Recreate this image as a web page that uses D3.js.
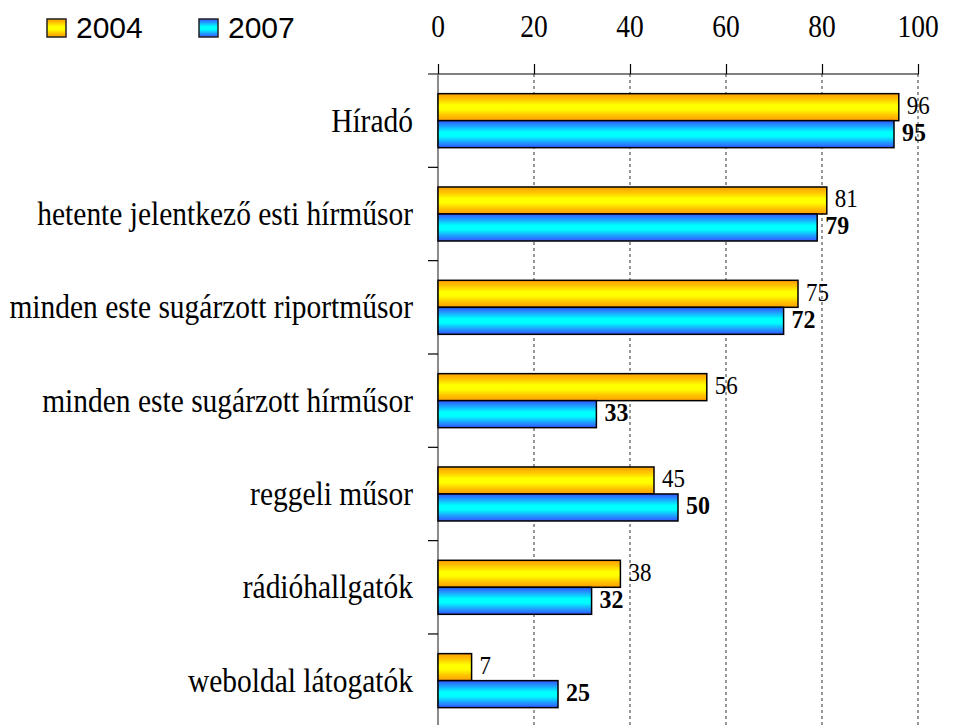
<!DOCTYPE html>
<html><head><meta charset="utf-8">
<script src="https://cdn.jsdelivr.net/npm/d3@7"></script>
<style>body{margin:0;background:#fff}svg{display:block}</style>
</head><body>
<script>
const categories = ["Híradó","hetente jelentkező esti hírműsor","minden este sugárzott riportműsor","minden este sugárzott hírműsor","reggeli műsor","rádióhallgatók","weboldal látogatók"];
const series = ["2004","2007"];
const values2004 = [96,81,75,56,45,38,7];
const values2007 = [95,79,72,33,50,32,25];
const xTicks = [0,20,40,60,80,100];

const SERIF="'Liberation Serif','Times New Roman',Times,serif";
const SANS="'Liberation Sans',Arial,sans-serif";
const W=974,H=725;
const svg=d3.select("body").append("svg").attr("width",W).attr("height",H);
const defs=svg.append("defs");
function grad(id,stops){
  const g=defs.append("linearGradient").attr("id",id).attr("x1",0).attr("y1",0).attr("x2",0).attr("y2",1);
  stops.forEach(([o,c])=>g.append("stop").attr("offset",o).attr("stop-color",c));
}
grad("g2004",[[0,"#FF9E00"],[0.2,"#FFC400"],[0.42,"#FFFF00"],[0.58,"#FFFF00"],[0.8,"#FFC400"],[1,"#FF9E00"]]);
grad("g2007",[[0,"#3355FF"],[0.2,"#1EA0FF"],[0.42,"#00FFFF"],[0.58,"#00FFFF"],[0.8,"#1EA0FF"],[1,"#3355FF"]]);
const fills={"2004":"url(#g2004)","2007":"url(#g2007)"};

const x=d3.scaleLinear().domain([0,100]).range([438,918]);
const y=d3.scaleBand().domain(categories).range([74,727.3]).paddingInner(0).paddingOuter(0);
const ys=d3.scaleBand().domain(series).range([0,y.bandwidth()]).paddingInner(0).paddingOuter(0.728);

// gridlines
svg.append("g").selectAll("line").data(xTicks.slice(1)).join("line")
  .attr("x1",d=>x(d)).attr("x2",d=>x(d)).attr("y1",74).attr("y2",H)
  .attr("stroke","#555").attr("stroke-width",1.2).attr("stroke-dasharray","3,3");

// top axis
const xAxis=d3.axisTop(x).tickValues(xTicks).tickSize(10).tickFormat(d3.format("d"));
const gx=svg.append("g").attr("transform","translate(0,74)").call(xAxis);
gx.select(".domain").remove();
gx.selectAll(".tick line").attr("stroke","#000").attr("stroke-width",1.2);
gx.selectAll(".tick text").remove();
svg.append("line").attr("x1",428).attr("x2",919).attr("y1",74).attr("y2",74).attr("stroke","#000").attr("stroke-width",1.2);
svg.append("g").selectAll("text").data(xTicks).join("text")
  .attr("transform",d=>`translate(${x(d)},37) scale(1,1.17)`)
  .attr("text-anchor","middle").style("font-family",SERIF)
  .style("font-size","27.5px").attr("fill","#000").text(d=>d);

// left axis
svg.append("line").attr("x1",438).attr("x2",438).attr("y1",74).attr("y2",H).attr("stroke","#666").attr("stroke-width",1.5);
const yTickPos=categories.slice(1).map(c=>y(c));
svg.append("g").selectAll("line").data(yTickPos).join("line")
  .attr("x1",428).attr("x2",438).attr("y1",d=>d).attr("y2",d=>d).attr("stroke","#000").attr("stroke-width",1.2);

// category labels
svg.append("g").selectAll("text").data(categories).join("text")
  .attr("transform",c=>`translate(413,${y(c)+y.bandwidth()/2+11}) scale(1,1.15)`)
  .attr("text-anchor","end").style("font-family",SERIF)
  .style("font-size","29.5px").attr("fill","#000").text(c=>c);

// bars
const rows=categories.map((c,i)=>[{c,s:"2004",v:values2004[i]},{c,s:"2007",v:values2007[i]}]).flat();
svg.append("g").selectAll("rect").data(rows).join("rect")
  .attr("x",x(0)).attr("y",d=>y(d.c)+ys(d.s)).attr("width",d=>x(d.v)-x(0)).attr("height",ys.bandwidth())
  .attr("fill",d=>fills[d.s]).attr("stroke","#000").attr("stroke-width",1.5);

// value labels
svg.append("g").selectAll("text").data(rows).join("text")
  .attr("transform",d=>`translate(${x(d.v)+8},${y(d.c)+ys(d.s)+ys.bandwidth()/2+7}) scale(1,1.08)`)
  .style("font-family",SERIF)
  .style("font-size",d=>d.s==="2004"?"23px":"24px").style("font-weight",d=>d.s==="2007"?"bold":"normal")
  .attr("fill","#000").text(d=>d.v);

// legend
const legX={"2004":47,"2007":199};
const lg=svg.append("g").selectAll("g").data(series).join("g");
lg.append("rect").attr("x",s=>legX[s]).attr("y",19).attr("width",19).attr("height",18)
  .attr("fill",s=>fills[s]).attr("stroke","#222").attr("stroke-width",1.5);
lg.append("text").attr("x",s=>legX[s]+29).attr("y",38).style("font-family",SANS)
  .style("font-size","30px").attr("fill","#000").text(s=>s);
</script>
</body></html>
